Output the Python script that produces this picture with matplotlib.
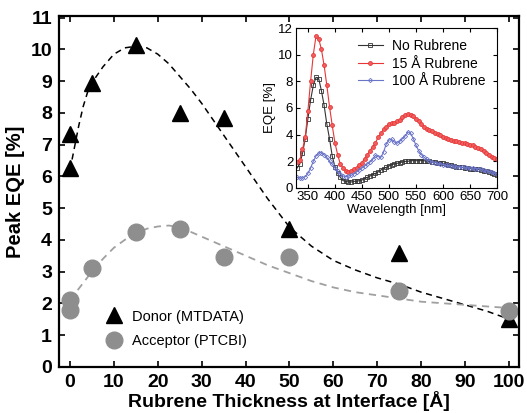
import matplotlib
matplotlib.use("Agg")
import matplotlib.pyplot as plt
import numpy as np

plt.rcParams["font.family"] = ["Liberation Sans", "DejaVu Sans"]

# peak EQE vs rubrene interlayer thickness
thickness = [0, 0, 5, 15, 25, 35, 50, 75, 100]
donor_eqe = [7.35, 6.25, 8.95, 10.15, 8.0, 7.85, 4.35, 3.6, 1.5]
acceptor_thickness = [0, 0, 5, 15, 25, 35, 50, 75, 100]
acceptor_eqe = [2.1, 1.78, 3.1, 4.25, 4.35, 3.45, 3.45, 2.4, 1.75]

# guide-to-the-eye curves
donor_fit_x = [0, 1, 2, 3, 4, 5, 7.5, 10, 12.5, 15, 17.5, 20, 22.5, 25, 27.5, 30,
               35, 40, 45, 50, 55, 60, 65, 70, 75, 80, 85, 90, 95, 100]
donor_fit_y = [6.2, 6.9, 7.6, 8.2, 8.65, 8.95, 9.45, 9.85, 10.05, 10.1, 10.05, 9.85,
               9.55, 9.15, 8.75, 8.3, 7.3, 6.3, 5.3, 4.4, 3.8, 3.35, 3.05, 2.8, 2.6,
               2.35, 2.15, 1.95, 1.75, 1.5]
acceptor_fit_x = [0, 2.5, 5, 7.5, 10, 12.5, 15, 17.5, 20, 22.5, 25, 30, 35, 40, 45,
                  50, 55, 60, 65, 70, 75, 80, 85, 90, 95, 100]
acceptor_fit_y = [2.1, 2.55, 3.0, 3.4, 3.75, 4.0, 4.2, 4.35, 4.42, 4.45, 4.4, 4.1,
                  3.8, 3.5, 3.2, 2.95, 2.7, 2.5, 2.35, 2.25, 2.15, 2.05, 2.0, 1.95,
                  1.9, 1.85]

# EQE spectra, 330-700 nm in 5 nm steps
wavelength = list(range(330, 705, 5))
eqe_none = [1.5, 1.8, 2.6, 3.7, 5.2, 6.6, 7.7, 8.3, 8.2, 7.3, 6.2, 4.8, 3.7, 2.4,
            1.6, 1.1, 0.8, 0.55, 0.5, 0.45, 0.45, 0.5, 0.5, 0.55, 0.6, 0.7, 0.8,
            0.9, 1.0, 1.1, 1.2, 1.35, 1.45, 1.55, 1.65, 1.75, 1.8, 1.85, 1.9, 1.95,
            2.0, 2.0, 2.05, 2.05, 2.05, 2.05, 2.05, 2.05, 2.0, 2.0, 1.95, 1.95,
            1.9, 1.9, 1.85, 1.8, 1.75, 1.7, 1.65, 1.6, 1.6, 1.55, 1.5, 1.5, 1.45,
            1.45, 1.4, 1.4, 1.35, 1.3, 1.25, 1.2, 1.15, 1.05, 1.0]
eqe_15 = [1.95, 2.1, 2.9, 3.8, 5.8, 8.0, 10.0, 11.4, 11.2, 10.4, 9.2, 7.7, 6.1,
          4.7, 3.4, 2.5, 1.8, 1.5, 1.3, 1.2, 1.25, 1.4, 1.5, 1.7, 1.9, 2.2, 2.5,
          2.8, 3.1, 3.4, 3.8, 4.1, 4.4, 4.6, 4.8, 4.85, 4.9, 5.0, 5.1, 5.3, 5.45,
          5.55, 5.5, 5.4, 5.2, 5.0, 4.8, 4.6, 4.45, 4.35, 4.25, 4.15, 4.05, 3.95,
          3.85, 3.75, 3.7, 3.6, 3.55, 3.5, 3.45, 3.4, 3.35, 3.3, 3.25, 3.2, 3.1,
          3.0, 2.9, 2.75, 2.6, 2.5, 2.35, 2.25, 2.2]
eqe_100 = [0.8, 0.75, 0.75, 0.85, 1.1, 1.5, 2.0, 2.4, 2.65, 2.65, 2.5, 2.3, 2.0,
           1.8, 1.5, 1.25, 1.05, 0.9, 0.85, 0.9, 0.95, 1.05, 1.2, 1.35, 1.5, 1.65,
           1.8, 1.95, 2.15, 2.45, 2.35, 2.3, 2.7, 3.3, 3.6, 3.65, 3.45, 3.35, 3.5,
           3.7, 3.9, 4.2, 4.1, 3.7, 3.2, 2.8, 2.5, 2.3, 2.15, 2.05, 1.95, 1.9,
           1.85, 1.8, 1.75, 1.7, 1.7, 1.65, 1.65, 1.6, 1.6, 1.55, 1.55, 1.5, 1.5,
           1.5, 1.45, 1.45, 1.4, 1.35, 1.3, 1.25, 1.2, 1.1, 1.05]

fig = plt.figure(figsize=(5.27, 4.13), dpi=100)
ax = fig.add_axes([0.112, 0.112, 0.873, 0.849])

ax.plot(donor_fit_x, donor_fit_y, "--", color="black", lw=1.1, dashes=(4, 3))
ax.plot(acceptor_fit_x, acceptor_fit_y, "--", color="#a0a0a0", lw=1.3, dashes=(4, 3))
ax.plot(thickness, donor_eqe, "^", color="black", ms=12, ls="none",
        label="Donor (MTDATA)")
ax.plot(acceptor_thickness, acceptor_eqe, "o", color="#8e8e8e", ms=12, ls="none",
        label="Acceptor (PTCBI)")

ax.set_xlim(-2.5, 102.3)
ax.set_ylim(0, 11.05)
ax.set_xticks(np.arange(0, 101, 10))
ax.set_yticks(np.arange(0, 12, 1))
ax.tick_params(direction="in", top=True, right=True, length=4, width=1.2,
               labelsize=14, pad=5)
for label in ax.get_xticklabels() + ax.get_yticklabels():
    label.set_fontweight("bold")
for spine in ax.spines.values():
    spine.set_linewidth(1.6)
ax.set_xlabel("Rubrene Thickness at Interface [Å]", fontsize=14,
              fontweight="bold", labelpad=0)
ax.set_ylabel("Peak EQE [%]", fontsize=14.5, fontweight="bold", labelpad=4)
ax.legend(loc="lower left", bbox_to_anchor=(0.065, 0.025), frameon=False,
          fontsize=10.5, handletextpad=0.25, labelspacing=0.7, borderpad=0.2)

# inset: EQE spectra
ins = fig.add_axes([0.5617, 0.5448, 0.3814, 0.3874])
ins.plot(wavelength, eqe_none, "-s", color="#333333", lw=0.8, ms=2.8, mfc="none",
         mew=0.6, label="No Rubrene")
ins.plot(wavelength, eqe_15, "-o", color="#e83535", lw=0.8, ms=2.8, mfc="#f06060",
         mew=0.6, label="15 Å Rubrene")
ins.plot(wavelength, eqe_100, "-D", color="#6a74c8", lw=0.8, ms=2.2, mfc="none",
         mew=0.6, label="100 Å Rubrene")
ins.set_xlim(328, 700)
ins.set_ylim(0, 12)
ins.set_xticks(np.arange(350, 701, 50))
ins.set_yticks(np.arange(0, 13, 2))
ins.tick_params(direction="in", top=True, right=True, length=3, labelsize=9.5,
                pad=2)
ins.set_xlabel("Wavelength [nm]", fontsize=9.5, labelpad=1)
ins.set_ylabel("EQE [%]", fontsize=9.5, labelpad=2)
ins.legend(loc="upper right", frameon=False, fontsize=10, handlelength=1.8,
           handletextpad=0.7, labelspacing=0.25, borderaxespad=0.4)

fig.savefig("out.png", dpi=100)
